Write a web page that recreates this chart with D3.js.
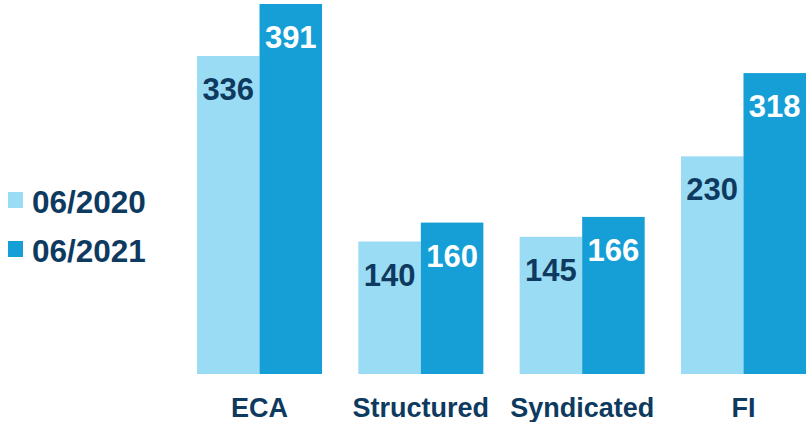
<!DOCTYPE html>
<html>
<head>
<meta charset="utf-8">
<script src="https://cdn.jsdelivr.net/npm/d3@7"></script>
<style>
  html, body { margin: 0; padding: 0; background: #ffffff; }
  svg { display: block; font-family: "Liberation Sans", Arial, sans-serif; }
</style>
</head>
<body>
<svg id="chart" width="807" height="422"></svg>
<script>
// Portfolio volumes by product, two reporting dates
const categories = ["ECA", "Structured", "Syndicated", "FI"];
const seriesNames = ["06/2020", "06/2021"];
const values2020 = [336, 140, 145, 230];
const values2021 = [391, 160, 166, 318];

const colors = ["#9bdcf5", "#169fd6"];
const labelColors = ["#0e3a5f", "#ffffff"];
const navy = "#0e3a5f";

const svg = d3.select("#chart");
const baseline = 374;

const x = d3.scaleBand()
  .domain(categories)
  .range([197, 806])
  .paddingInner(0.225)
  .paddingOuter(0);

const xs = d3.scaleBand()
  .domain(seriesNames)
  .range([0, x.bandwidth()])
  .padding(0);

const y = d3.scaleLinear()
  .domain([0, 391])
  .range([baseline, 4]);

const rows = categories.map((c, i) => ({
  cat: c,
  vals: [values2020[i], values2021[i]]
}));

const groups = svg.selectAll("g.cat")
  .data(rows)
  .join("g")
  .attr("class", "cat")
  .attr("transform", d => `translate(${x(d.cat)},0)`);

groups.selectAll("rect")
  .data(d => d.vals.map((v, j) => ({ v, s: seriesNames[j], j })))
  .join("rect")
  .attr("x", d => xs(d.s))
  .attr("y", d => y(d.v))
  .attr("width", xs.bandwidth())
  .attr("height", d => baseline - y(d.v))
  .attr("fill", d => colors[d.j]);

groups.selectAll("text.val")
  .data(d => d.vals.map((v, j) => ({ v, s: seriesNames[j], j })))
  .join("text")
  .attr("class", "val")
  .attr("x", d => xs(d.s) + xs.bandwidth() / 2)
  .attr("y", d => y(d.v) + 44)
  .attr("text-anchor", "middle")
  .attr("font-size", 31)
  .attr("font-weight", "bold")
  .attr("fill", d => labelColors[d.j])
  .text(d => d.v);

// Category axis labels (no axis line)
const xAxis = d3.axisBottom(x).tickSize(0).tickPadding(0);
const axisG = svg.append("g")
  .attr("transform", `translate(0,${baseline})`)
  .call(xAxis);
axisG.select(".domain").remove();
axisG.selectAll("text")
  .attr("dy", 0)
  .attr("y", 43)
  .attr("font-size", 27)
  .attr("font-weight", "bold")
  .attr("font-family", "'Liberation Sans', Arial, sans-serif")
  .attr("fill", navy);

// Legend
const legend = svg.append("g");
const legendY = [213, 262];
seriesNames.forEach((name, i) => {
  legend.append("rect")
    .attr("x", 8)
    .attr("y", legendY[i] - 21)
    .attr("width", 15)
    .attr("height", 16)
    .attr("fill", colors[i]);
  legend.append("text")
    .attr("x", 32)
    .attr("y", legendY[i])
    .attr("font-size", 31.5)
    .attr("font-weight", "bold")
    .attr("fill", navy)
    .text(name);
});
</script>
</body>
</html>
